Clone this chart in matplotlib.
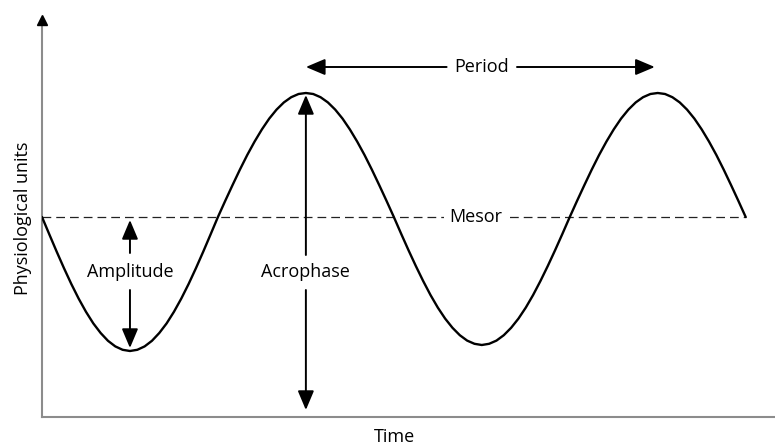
import numpy as np
import matplotlib
matplotlib.use('Agg')
import matplotlib.pyplot as plt

plt.rcParams['font.family'] = ['Open Sans', 'DejaVu Sans']

# rhythm every half hour (physiological units)
trough_1 = [10.0, 9.13, 8.27, 7.44, 6.65, 5.92, 5.26, 4.68, 4.20, 3.81, 3.53, 3.36,
            3.30, 3.36, 3.53, 3.81, 4.20, 4.68, 5.26, 5.92, 6.65, 7.44, 8.27, 9.13]
peak_1 = [10.0, 10.81, 11.60, 12.37, 13.10, 13.77, 14.38, 14.92, 15.37, 15.73, 15.99, 16.15,
          16.20, 16.15, 15.99, 15.73, 15.37, 14.92, 14.38, 13.77, 13.10, 12.37, 11.60, 10.81]
trough_2 = [10.0, 9.16, 8.34, 7.55, 6.80, 6.10, 5.47, 4.92, 4.46, 4.09, 3.82, 3.66,
            3.60, 3.66, 3.82, 4.09, 4.46, 4.92, 5.47, 6.10, 6.80, 7.55, 8.34, 9.16]
peak_2 = [10.0, 10.81, 11.60, 12.37, 13.10, 13.77, 14.38, 14.92, 15.37, 15.73, 15.99, 16.15,
          16.20, 16.15, 15.99, 15.73, 15.37, 14.92, 14.38, 13.77, 13.10, 12.37, 11.60, 10.81,
          10.0]
values = trough_1 + peak_1 + trough_2 + peak_2
hours = np.arange(len(values)) * 0.5

mesor = 10.0
trough_time = 6.0
acrophase_time = 18.0
second_peak_time = 41.8
period_y = 17.5

fig = plt.figure(figsize=(7.75, 4.48), dpi=100)
ax = fig.add_axes([42 / 775, 31 / 448, 733 / 775, 397 / 448])
ax.set_xlim(0, 50)
ax.set_ylim(0, 19.85)

fs = 13

# curve and mesor
ax.plot(hours, values, color='black', lw=1.7, solid_capstyle='round', zorder=3)
ax.plot([hours[0], hours[-1]], [mesor, mesor], color='#222222', lw=0.9,
        linestyle=(0, (7, 4)), zorder=2)
ax.text(29.6, mesor, 'Mesor', ha='center', va='center', fontsize=fs,
        bbox=dict(facecolor='white', edgecolor='none', pad=4), zorder=4)

arrow = dict(arrowstyle='-|>,head_length=0.9,head_width=0.38', color='black',
             lw=1.4, mutation_scale=13, shrinkA=0, shrinkB=0)

# amplitude
ax.annotate('', xy=(trough_time, 9.85), xytext=(trough_time, 8.2), arrowprops=arrow)
ax.annotate('', xy=(trough_time, 3.45), xytext=(trough_time, 6.35), arrowprops=arrow)
ax.text(trough_time, 7.25, 'Amplitude', ha='center', va='center', fontsize=fs)

# acrophase
ax.annotate('', xy=(acrophase_time, 16.1), xytext=(acrophase_time, 8.1), arrowprops=arrow)
ax.annotate('', xy=(acrophase_time, 0.35), xytext=(acrophase_time, 6.35), arrowprops=arrow)
ax.text(acrophase_time, 7.25, 'Acrophase', ha='center', va='center', fontsize=fs)

# period
ax.annotate('', xy=(acrophase_time, period_y), xytext=(27.6, period_y), arrowprops=arrow)
ax.annotate('', xy=(second_peak_time, period_y), xytext=(32.4, period_y), arrowprops=arrow)
ax.text(29.95, period_y, 'Period', ha='center', va='center', fontsize=fs)

# axes
for side in ['top', 'right']:
    ax.spines[side].set_visible(False)
for side in ['left', 'bottom']:
    ax.spines[side].set_color('#8c8c8c')
    ax.spines[side].set_linewidth(1.5)
ax.set_xticks([])
ax.set_yticks([])
ax.plot(0, 1, marker='^', color='black', markersize=7, transform=ax.transAxes,
        clip_on=False, zorder=5)

ax.set_ylabel('Physiological units', fontsize=fs, labelpad=7)
fig.text(395 / 775, 11 / 448, 'Time', ha='center', va='center', fontsize=fs)

fig.savefig('out.png', dpi=100)
